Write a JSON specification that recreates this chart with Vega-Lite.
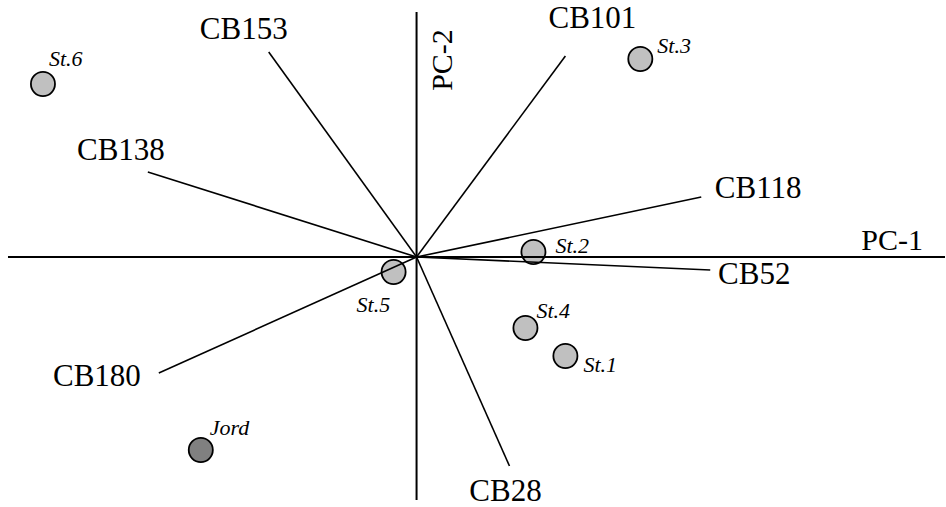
{
  "$schema": "https://vega.github.io/schema/vega-lite/v6.json",
  "width": 946,
  "height": 507,
  "padding": 0,
  "autosize": {"type": "fit", "contains": "padding"},
  "background": "white",
  "config": {"view": {"stroke": null}},
  "datasets": {
    "axes": [
      {"axis": "PC-1", "x": -409, "y": 0, "x2": 529, "y2": 0, "lx": 476, "ly": 7},
      {"axis": "PC-2", "x": 0, "y": 245, "x2": 0, "y2": -243, "lx": 35, "ly": 197}
    ],
    "loadings": [
      {"name": "CB153", "x": -148, "y": 205, "lx": -173, "ly": 218},
      {"name": "CB101", "x": 149, "y": 201, "lx": 176, "ly": 229},
      {"name": "CB138", "x": -269, "y": 85, "lx": -296, "ly": 97},
      {"name": "CB118", "x": 285, "y": 60, "lx": 342, "ly": 59},
      {"name": "CB52", "x": 294, "y": -13, "lx": 338, "ly": -27},
      {"name": "CB180", "x": -258, "y": -116, "lx": -320, "ly": -129},
      {"name": "CB28", "x": 93, "y": -209, "lx": 89, "ly": -244}
    ],
    "scores": [
      {"name": "St.6", "group": "station", "x": -374, "y": 173, "lx": -368, "ly": 191},
      {"name": "St.3", "group": "station", "x": 224, "y": 198, "lx": 241, "ly": 204},
      {"name": "St.2", "group": "station", "x": 117, "y": 5, "lx": 139, "ly": 4},
      {"name": "St.5", "group": "station", "x": -23, "y": -15, "lx": -60, "ly": -55},
      {"name": "St.4", "group": "station", "x": 109, "y": -71, "lx": 120, "ly": -61},
      {"name": "St.1", "group": "station", "x": 149, "y": -99, "lx": 167, "ly": -115},
      {"name": "Jord", "group": "reference", "x": -216, "y": -193, "lx": -207, "ly": -178}
    ]
  },
  "layer": [
    {
      "data": {"name": "scores"},
      "mark": {"type": "point", "shape": "circle", "filled": true, "size": 580, "stroke": "black", "strokeWidth": 1.8, "opacity": 1},
      "encoding": {
        "x": {"field": "x", "type": "quantitative", "scale": {"domain": [-417, 529], "nice": false, "zero": false}, "axis": null},
        "y": {"field": "y", "type": "quantitative", "scale": {"domain": [-250, 257], "nice": false, "zero": false}, "axis": null},
        "fill": {"field": "group", "type": "nominal", "scale": {"domain": ["station", "reference"], "range": ["#c0c0c0", "#808080"]}, "legend": null}
      }
    },
    {
      "data": {"name": "axes"},
      "mark": {"type": "rule", "color": "black", "strokeWidth": 2},
      "encoding": {
        "x": {"field": "x", "type": "quantitative"},
        "y": {"field": "y", "type": "quantitative"},
        "x2": {"field": "x2"},
        "y2": {"field": "y2"}
      }
    },
    {
      "data": {"name": "loadings"},
      "mark": {"type": "rule", "color": "black", "strokeWidth": 1.6},
      "encoding": {
        "x": {"field": "x", "type": "quantitative"},
        "y": {"field": "y", "type": "quantitative"},
        "x2": {"datum": 0},
        "y2": {"datum": 0}
      }
    },
    {
      "data": {"name": "loadings"},
      "mark": {"type": "text", "font": "Liberation Serif, Times New Roman, serif", "fontSize": 31, "align": "center", "baseline": "alphabetic", "color": "black"},
      "encoding": {
        "x": {"field": "lx", "type": "quantitative"},
        "y": {"field": "ly", "type": "quantitative"},
        "text": {"field": "name"}
      }
    },
    {
      "data": {"name": "scores"},
      "mark": {"type": "text", "font": "Liberation Serif, Times New Roman, serif", "fontSize": 22, "fontStyle": "italic", "align": "left", "baseline": "alphabetic", "color": "black"},
      "encoding": {
        "x": {"field": "lx", "type": "quantitative"},
        "y": {"field": "ly", "type": "quantitative"},
        "text": {"field": "name"}
      }
    },
    {
      "data": {"name": "axes"},
      "transform": [{"filter": "datum.axis == 'PC-1'"}],
      "mark": {"type": "text", "font": "Liberation Serif, Times New Roman, serif", "fontSize": 30, "align": "center", "baseline": "alphabetic", "color": "black"},
      "encoding": {
        "x": {"field": "lx", "type": "quantitative"},
        "y": {"field": "ly", "type": "quantitative"},
        "text": {"field": "axis"}
      }
    },
    {
      "data": {"name": "axes"},
      "transform": [{"filter": "datum.axis == 'PC-2'"}],
      "mark": {"type": "text", "font": "Liberation Serif, Times New Roman, serif", "fontSize": 30, "align": "center", "baseline": "alphabetic", "angle": 270, "color": "black"},
      "encoding": {
        "x": {"field": "lx", "type": "quantitative"},
        "y": {"field": "ly", "type": "quantitative"},
        "text": {"field": "axis"}
      }
    }
  ]
}
